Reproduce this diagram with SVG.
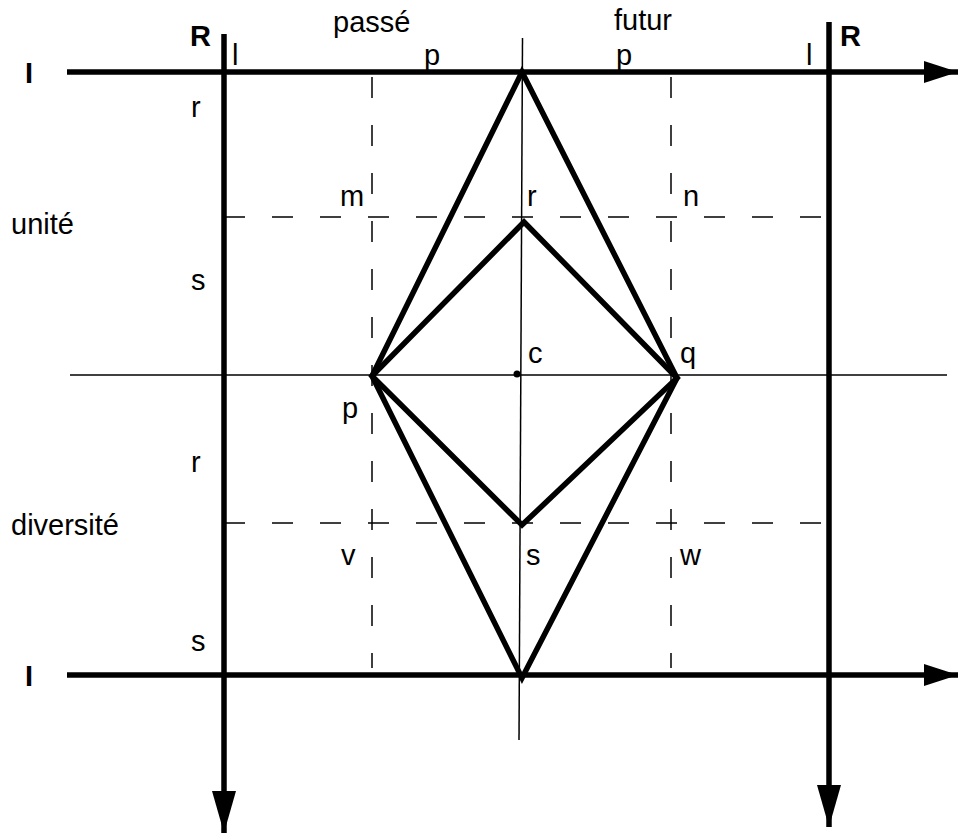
<svg xmlns="http://www.w3.org/2000/svg" width="959" height="834" viewBox="0 0 959 834">
<style>
text{font-family:"Liberation Sans",Arial,sans-serif;font-size:29px;fill:#000}
.b{font-weight:bold}
.thick{stroke:#000;stroke-width:5.5;fill:none}
.thin{stroke:#000;stroke-width:1.5;fill:none}
.dash{stroke:#000;stroke-width:1.5;fill:none;stroke-dasharray:21 27}
</style>
<defs>
<marker id="ah" markerUnits="userSpaceOnUse" markerWidth="34" markerHeight="22" refX="34" refY="11" orient="auto">
<path d="M0,0 L34,11 L0,22 Z" fill="#000"/>
</marker>
<marker id="av" markerUnits="userSpaceOnUse" markerWidth="42" markerHeight="24" refX="42" refY="12" orient="auto">
<path d="M0,0 L42,12 L0,24 Z" fill="#000"/>
</marker>
</defs>
<rect width="959" height="834" fill="#fff"/>
<g id="connectors">
<line class="thin" x1="70" y1="375" x2="947" y2="375"/>
<line class="thin" x1="522.5" y1="38" x2="519" y2="740"/>
<line class="dash" x1="372" y1="77" x2="372" y2="668"/>
<line class="dash" x1="671" y1="77" x2="671" y2="668"/>
<line class="dash" x1="224" y1="217" x2="829" y2="217"/>
<line class="dash" x1="224" y1="523" x2="829" y2="523"/>
<line class="thick" x1="67" y1="72" x2="958" y2="72" marker-end="url(#ah)"/>
<line class="thick" x1="67" y1="675" x2="958" y2="675" marker-end="url(#ah)"/>
<line class="thick" x1="224" y1="34" x2="224" y2="833" marker-end="url(#av)"/>
<line class="thick" x1="829" y1="22" x2="829" y2="827" marker-end="url(#av)"/>
<polygon class="thick" points="522,72 677,378 522,678 372,376"/>
<polygon class="thick" points="524,222 677,378 522,525 372,376"/>
<circle cx="517" cy="374" r="3.5" fill="#000"/>
</g>
<g id="labels">
<text class="b" x="25" y="83">I</text>
<text class="b" x="25" y="686">I</text>
<text class="b" x="190" y="46">R</text>
<text class="b" x="840" y="46">R</text>
<text x="232" y="65">l</text>
<text x="806" y="65">l</text>
<text x="333" y="32">passé</text>
<text x="614" y="30">futur</text>
<text x="424" y="65">p</text>
<text x="616" y="65">p</text>
<text x="191" y="117">r</text>
<text x="191" y="290">s</text>
<text x="191" y="472">r</text>
<text x="191" y="651">s</text>
<text x="11" y="234">unité</text>
<text x="11" y="535">diversité</text>
<text x="340" y="206">m</text>
<text x="527" y="206">r</text>
<text x="683" y="206">n</text>
<text x="528" y="363">c</text>
<text x="680" y="363">q</text>
<text x="342" y="418">p</text>
<text x="341" y="565">v</text>
<text x="526" y="565">s</text>
<text x="680" y="565">w</text>
</g>
</svg>
